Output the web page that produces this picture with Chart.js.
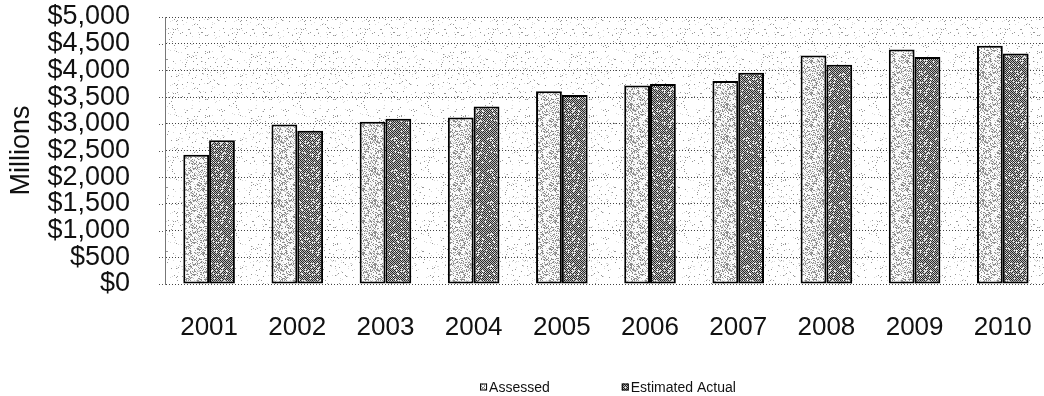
<!DOCTYPE html>
<html>
<head>
<meta charset="utf-8">
<title>Assessed vs Estimated Actual</title>
<script src="https://cdn.jsdelivr.net/npm/chart.js@4/dist/chart.umd.min.js"></script>
<style>
  html, body { margin: 0; padding: 0; background: #fff; overflow: hidden; }
  #wrap { position: relative; width: 1060px; height: 396px; }
</style>
</head>
<body>
<div id="wrap"><canvas id="c" width="1060" height="396"></canvas></div>
<script>
// Values in millions of dollars
const years = ['2001', '2002', '2003', '2004', '2005', '2006', '2007', '2008', '2009', '2010'];
const assessed = [2420, 2985, 3040, 3120, 3610, 3715, 3800, 4280, 4390, 4460];
const estimatedActual = [2690, 2870, 3095, 3325, 3540, 3745, 3955, 4105, 4250, 4315];
const yTicks = [0, 500, 1000, 1500, 2000, 2500, 3000, 3500, 4000, 4500, 5000];
const seriesNames = ['Assessed', 'Estimated Actual'];

const FONT = "'Liberation Sans', Arial, Helvetica, sans-serif";

// deterministic pixel hash for halftone-like textures
function hash(x, y, s) {
  let h = Math.imul(x + 1, 374761393) ^ Math.imul(y + 7, 668265263) ^ Math.imul(s, 2246822519);
  h = Math.imul(h ^ (h >>> 13), 1274126177);
  h = h ^ (h >>> 16);
  return (h >>> 0) / 4294967296;
}

function texture(size, shade) {
  const tile = document.createElement('canvas');
  tile.width = tile.height = size;
  const g = tile.getContext('2d');
  const img = g.createImageData(size, size);
  for (let y = 0; y < size; y++) {
    for (let x = 0; x < size; x++) {
      const v = shade(x, y);
      const i = (y * size + x) * 4;
      img.data[i] = img.data[i + 1] = img.data[i + 2] = v;
      img.data[i + 3] = 255;
    }
  }
  g.putImageData(img, 0, 0);
  return g.createPattern(tile, 'repeat');
}

// light stipple for the assessed bars
const assessedFill = texture(32, (x, y) => {
  const r = hash(x, y, 1);
  return r < 0.28 ? 140 : (r < 0.40 ? 200 : 250);
});
// dark checkered stipple for the estimated bars
const estimatedFill = texture(32, (x, y) => {
  const r = hash(x, y, 2);
  const chk = ((x + y) % 2 === 0);
  let v = chk ? 55 : 185;
  if ((x - y + 64) % 4 === 0) v -= 25;
  if (r < 0.10) v = 245;
  return Math.max(30, Math.min(250, v));
});
// sparse speckle for the plot background
const plotFill = texture(64, (x, y) => {
  const r = hash(x, y, 3);
  if (r < 0.025) return 150;
  if (r < 0.055) return 215;
  return 255;
});

const plotBackground = {
  id: 'plotBackground',
  beforeDraw(chart) {
    const { ctx, chartArea: a } = chart;
    ctx.save();
    ctx.fillStyle = plotFill;
    ctx.fillRect(a.left, a.top, a.right - a.left, a.bottom - a.top);
    ctx.restore();
  }
};

// short dotted tick marks just outside the left edge of the plot
const yTickMarks = {
  id: 'yTickMarks',
  beforeDatasetsDraw(chart) {
    const { ctx, chartArea: a } = chart;
    const y = chart.scales.y;
    ctx.save();
    ctx.strokeStyle = '#555';
    ctx.lineWidth = 1;
    ctx.setLineDash([1, 2]);
    y.ticks.forEach(t => {
      const py = Math.round(y.getPixelForValue(t.value)) + 0.5;
      ctx.beginPath();
      ctx.moveTo(a.left - 6, py);
      ctx.lineTo(a.left, py);
      ctx.stroke();
    });
    ctx.restore();
  }
};

// compact legend row centred under the plot
const bottomLegend = {
  id: 'bottomLegend',
  afterDraw(chart) {
    const { ctx, chartArea: a } = chart;
    const box = 7, textGap = 2, itemGap = 72, cy = 387;
    ctx.save();
    ctx.font = '14px ' + FONT;
    ctx.textBaseline = 'middle';
    ctx.textAlign = 'left';
    const items = chart.data.datasets.map(ds => ({
      text: ds.label, fill: ds.backgroundColor,
      w: box + textGap + ctx.measureText(ds.label).width
    }));
    const total = items.reduce((s, it) => s + it.w, 0) + itemGap * (items.length - 1);
    let x = (a.left + a.right) / 2 - total / 2 + 2;
    items.forEach(it => {
      ctx.fillStyle = it.fill;
      ctx.fillRect(x, cy - box / 2, box, box);
      ctx.strokeStyle = '#000';
      ctx.lineWidth = 1;
      ctx.strokeRect(x + 0.5, cy - box / 2 + 0.5, box - 1, box - 1);
      ctx.fillStyle = '#111';
      ctx.fillText(it.text, x + box + textGap, cy + 1);
      x += it.w + itemGap;
    });
    ctx.restore();
  }
};

new Chart(document.getElementById('c'), {
  type: 'bar',
  data: {
    labels: years,
    datasets: [
      {
        label: seriesNames[0],
        data: assessed,
        backgroundColor: assessedFill,
        borderColor: '#000',
        borderWidth: 2,
        borderSkipped: false,
        categoryPercentage: 0.585,
        barPercentage: 1.0
      },
      {
        label: seriesNames[1],
        data: estimatedActual,
        backgroundColor: estimatedFill,
        borderColor: '#000',
        borderWidth: 2,
        borderSkipped: false,
        categoryPercentage: 0.585,
        barPercentage: 1.0
      }
    ]
  },
  options: {
    responsive: false,
    maintainAspectRatio: false,
    devicePixelRatio: 1,
    animation: false,
    layout: { padding: { top: 17, right: 6, bottom: 0, left: 0 } },
    plugins: {
      legend: { display: false },
      tooltip: { enabled: false },
      title: { display: false }
    },
    scales: {
      x: {
        grid: { display: false, drawTicks: false },
        border: { display: false },
        ticks: {
          color: '#111',
          font: { family: FONT, size: 26 },
          padding: 28,
          maxRotation: 0,
          autoSkip: false
        },
        afterFit(scale) { scale.height = 112; }
      },
      y: {
        min: 0,
        max: 5000,
        afterBuildTicks(scale) { scale.ticks = yTicks.map(v => ({ value: v })); },
        ticks: {
          autoSkip: false,
          color: '#111',
          padding: 0,
          font: { family: FONT, size: 27 },
          callback: v => '$' + Number(v).toLocaleString('en-US')
        },
        grid: {
          color: '#444',
          lineWidth: 1,
          tickLength: 35,
          tickColor: 'rgba(0,0,0,0)'
        },
        border: { display: true, color: '#777', width: 1, dash: [1, 2] },
        title: {
          display: true,
          text: 'Millions',
          color: '#111',
          font: { family: FONT, size: 27, lineHeight: 1 },
          padding: { top: 8, bottom: 0 }
        },
        afterFit(scale) { scale.width = 165; }
      }
    }
  },
  plugins: [plotBackground, yTickMarks, bottomLegend]
});
</script>
</body>
</html>
